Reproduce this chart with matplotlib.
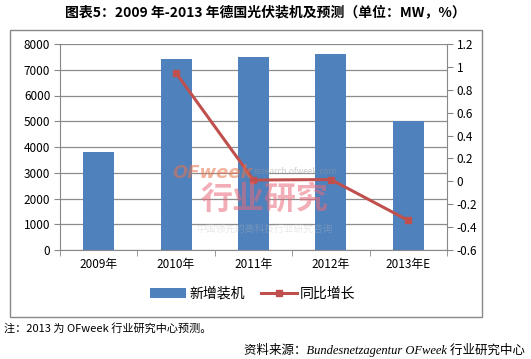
import matplotlib.pyplot as plt
from matplotlib.patches import Rectangle

plt.rcParams['font.family'] = ['Noto Sans CJK SC', 'DejaVu Sans']

years = ['2009年', '2010年', '2011年', '2012年', '2013年E']
installed = [3806, 7406, 7485, 7604, 5000]
growth_years = ['2010年', '2011年', '2012年', '2013年E']
growth = [0.946, 0.011, 0.016, -0.342]

W, H = 531, 359
fig = plt.figure(figsize=(W / 100, H / 100), dpi=100)

# chart frame
fig.patches.append(Rectangle((10 / W, 1 - 317 / H), 472 / W, 287 / H,
                             transform=fig.transFigure, fill=False,
                             edgecolor='#888888', linewidth=1))

ax = fig.add_axes([60 / W, 1 - 250 / H, 387 / W, 206 / H])
x = list(range(len(years)))
ax.bar(x, installed, width=0.4, color='#4F81BD', zorder=2, label='新增装机')
ax.set_xlim(-0.5, len(years) - 0.5)
ax.set_ylim(0, 8000)
ax.set_yticks(range(0, 8001, 1000))
ax.grid(axis='y', color='#8c8c8c', linewidth=0.9, zorder=0)
ax.set_xticks(x)
ax.set_xticklabels(years, fontsize=8.5)
ax.set_xticks([i - 0.5 for i in range(len(years) + 1)], minor=True)
ax.tick_params(axis='x', which='major', length=0, pad=6)
ax.tick_params(axis='x', which='minor', length=4, color='#888888', direction='out')
ax.tick_params(axis='y', length=4, color='#888888', labelsize=8.5, pad=3)
for s in ['top', 'right']:
    ax.spines[s].set_visible(False)
ax.spines['left'].set_color('#888888')
ax.spines['bottom'].set_color('#888888')

ax2 = ax.twinx()
gx = [years.index(y) for y in growth_years]
ax2.plot(gx, growth, color='#C0504D', linewidth=2.2, marker='s', markersize=5,
         zorder=3, label='同比增长')
ax2.set_ylim(-0.6, 1.2)
ax2.set_yticks([-0.6, -0.4, -0.2, 0, 0.2, 0.4, 0.6, 0.8, 1, 1.2])
ax2.set_yticklabels(['-0.6', '-0.4', '-0.2', '0', '0.2', '0.4', '0.6', '0.8', '1', '1.2'])
ax2.tick_params(axis='y', length=4, color='#888888', labelsize=8.5, pad=3)
for s in ['top', 'left', 'bottom']:
    ax2.spines[s].set_visible(False)
ax2.spines['right'].set_color('#888888')

# watermark
fig.text(172 / W, 1 - 173 / H, 'OFweek', color='#e8734a', alpha=0.55,
         fontsize=13, fontweight='bold', style='italic', ha='left', va='center',
         family=['DejaVu Sans'], zorder=5)
fig.text(253 / W, 1 - 172 / H, 'research.ofweek.com', color='#999999', alpha=0.5,
         fontsize=6, ha='left', va='center', zorder=5)
fig.text(264 / W, 1 - 200 / H, '行业研究', color='#e86a7a', alpha=0.55,
         fontsize=23, fontweight='bold', ha='center', va='center', zorder=5)
fig.text(264 / W, 1 - 229 / H, '中国领先的高科技行业研究咨询', color='#bbbbbb', alpha=0.35,
         fontsize=7, ha='center', va='center', zorder=5)

h1, l1 = ax.get_legend_handles_labels()
h2, l2 = ax2.get_legend_handles_labels()
fig.legend(h1 + h2, l1 + l2, loc='center', bbox_to_anchor=(253 / W, 1 - 294 / H),
           ncol=2, frameon=False, fontsize=10, handlelength=2.6,
           handleheight=0.7, columnspacing=1.2, handletextpad=0.2)

fig.text(265 / W, 1 - 12 / H, '图表5：2009 年-2013 年德国光伏装机及预测（单位：MW，%）',
         ha='center', va='center', fontsize=10, fontweight='bold')
fig.text(4 / W, 1 - 328 / H, '注：2013 为 OFweek 行业研究中心预测。', fontsize=8,
         ha='left', va='center')
fig.text(525 / W, 1 - 350 / H, '资料来源：Bundesnetzagentur OFweek 行业研究中心',
         fontsize=9, style='italic', ha='right', va='center',
         family=['Liberation Serif', 'Noto Sans CJK SC'])

fig.savefig('out.png', dpi=100)
